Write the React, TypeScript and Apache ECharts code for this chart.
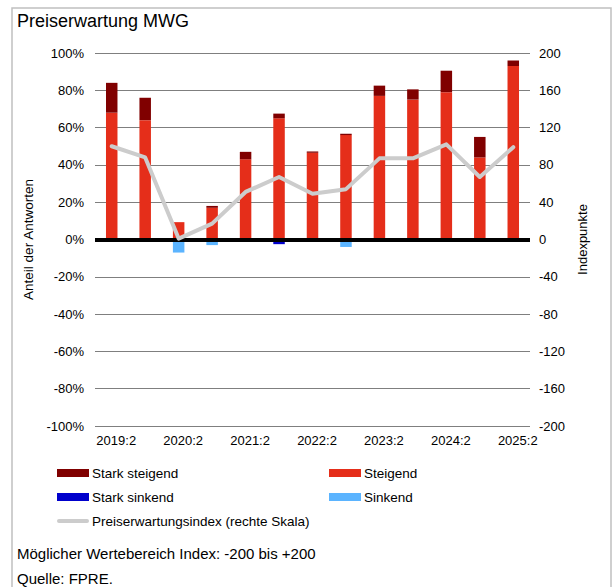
import React, { useEffect, useRef } from "react";
import * as echarts from "echarts";

const categories = [
  "2019:2", "2020:1", "2020:2", "2021:1", "2021:2", "2022:1", "2022:2",
  "2023:1", "2023:2", "2024:1", "2024:2", "2025:1", "2025:2",
];
const starkSteigend = [16, 12, 0, 1, 4, 2.5, 0.7, 0.7, 5.5, 5.5, 11.5, 11, 3];
const steigend = [68, 64, 9.3, 17, 43, 65, 46.5, 56, 77, 75, 79, 44, 93];
const starkSinkend = [0, 0, 0, 0, 0, -2.5, 0, 0, 0, 0, 0, 0, 0];
const sinkend = [0, 0, -7, -3, 0, 0, 0, -4, 0, 0, 0, 0, 0];
const indexValues = [100, 88, 1, 17, 51, 67, 49, 54, 87, 87, 102, 67, 99];

const FONT = "Arial, 'Liberation Sans', sans-serif";
const PILL = "path://M2,0 L30,0 A2,2 0 0 1 30,4 L2,4 A2,2 0 0 1 2,0 Z";

export default function App() {
  const ref = useRef<HTMLDivElement>(null);
  useEffect(() => {
    if (!ref.current) return;
    const chart = echarts.init(ref.current, undefined, { renderer: "svg" });
    const txt = { color: "#000", fontFamily: FONT };
    const legendBase = {
      orient: "vertical",
      top: 466,
      padding: 0,
      itemWidth: 32,
      itemHeight: 8,
      itemGap: 10,
      textStyle: { ...txt, fontSize: 13.5, padding: [0, 0, 0, -2] },
    };
    chart.setOption({
      animation: false,
      backgroundColor: "#fff",
      textStyle: { fontFamily: FONT },
      grid: { left: 95, right: 84, top: 53, bottom: 161 },
      xAxis: {
        type: "category",
        data: categories,
        axisLine: { show: false },
        axisTick: { show: false },
        axisLabel: { ...txt, fontSize: 13, interval: 1, margin: 8, padding: [0, 0, 0, 9] },
      },
      yAxis: [
        {
          type: "value",
          min: -100,
          max: 100,
          interval: 20,
          name: "Anteil der Antworten",
          nameLocation: "middle",
          nameRotate: 90,
          nameGap: 55,
          nameTextStyle: { ...txt, fontSize: 13.5 },
          axisLine: { show: false },
          axisTick: { show: false },
          axisLabel: { ...txt, fontSize: 13, margin: 11, formatter: "{value}%" },
          splitLine: { lineStyle: { color: "#7f7f7f", width: 1 } },
        },
        {
          type: "value",
          min: -200,
          max: 200,
          interval: 40,
          name: "Indexpunkte",
          nameLocation: "middle",
          nameRotate: 90,
          nameGap: 46,
          nameTextStyle: { ...txt, fontSize: 13 },
          axisLine: { show: false },
          axisTick: { show: false },
          axisLabel: { ...txt, fontSize: 13, margin: 9 },
          splitLine: { show: false },
        },
      ],
      legend: [
        {
          ...legendBase,
          left: 57,
          data: [
            { name: "Stark steigend", icon: "rect" },
            { name: "Stark sinkend", icon: "rect" },
            { name: "Preiserwartungsindex (rechte Skala)", icon: PILL },
          ],
        },
        {
          ...legendBase,
          left: 329,
          data: [
            { name: "Steigend", icon: "rect" },
            { name: "Sinkend", icon: "rect" },
          ],
        },
      ],
      series: [
        {
          name: "Steigend",
          type: "bar",
          stack: "a",
          barWidth: 11.5,
          data: steigend,
          itemStyle: { color: "#e52e1a" },
          markLine: {
            silent: true,
            symbol: "none",
            label: { show: false },
            lineStyle: { color: "#000", width: 4, type: "solid" },
            data: [{ yAxis: 0 }],
            z: 10,
          },
        },
        {
          name: "Stark steigend",
          type: "bar",
          stack: "a",
          barWidth: 11.5,
          data: starkSteigend,
          itemStyle: { color: "#800000" },
        },
        {
          name: "Sinkend",
          type: "bar",
          stack: "a",
          barWidth: 11.5,
          data: sinkend,
          itemStyle: { color: "#5bb4ff" },
        },
        {
          name: "Stark sinkend",
          type: "bar",
          stack: "a",
          barWidth: 11.5,
          data: starkSinkend,
          itemStyle: { color: "#0000cc" },
        },
        {
          name: "Preiserwartungsindex (rechte Skala)",
          type: "line",
          yAxisIndex: 1,
          data: indexValues,
          symbol: "none",
          z: 20,
          itemStyle: { color: "#cccccc" },
          lineStyle: { color: "#cccccc", width: 4, cap: "round", join: "round" },
        },
      ],
      graphic: [
        {
          type: "rect",
          shape: { x: 12, y: 8, width: 599, height: 600 },
          style: { fill: "none", stroke: "#c0c0c0", lineWidth: 1.5 },
          silent: true,
        },
        {
          type: "text",
          left: 17,
          top: 12,
          style: { text: "Preiserwartung MWG", font: `18px ${FONT}`, fill: "#000" },
        },
        {
          type: "text",
          left: 17,
          top: 546,
          style: { text: "Möglicher Wertebereich Index: -200 bis +200", font: `15px ${FONT}`, fill: "#000" },
        },
        {
          type: "text",
          left: 17,
          top: 571,
          style: { text: "Quelle: FPRE.", font: `15px ${FONT}`, fill: "#000" },
        },
      ],
    });
    return () => chart.dispose();
  }, []);
  return (
    <div
      ref={ref}
      style={{ position: "fixed", left: 0, top: 0, width: 614, height: 587 }}
    />
  );
}
